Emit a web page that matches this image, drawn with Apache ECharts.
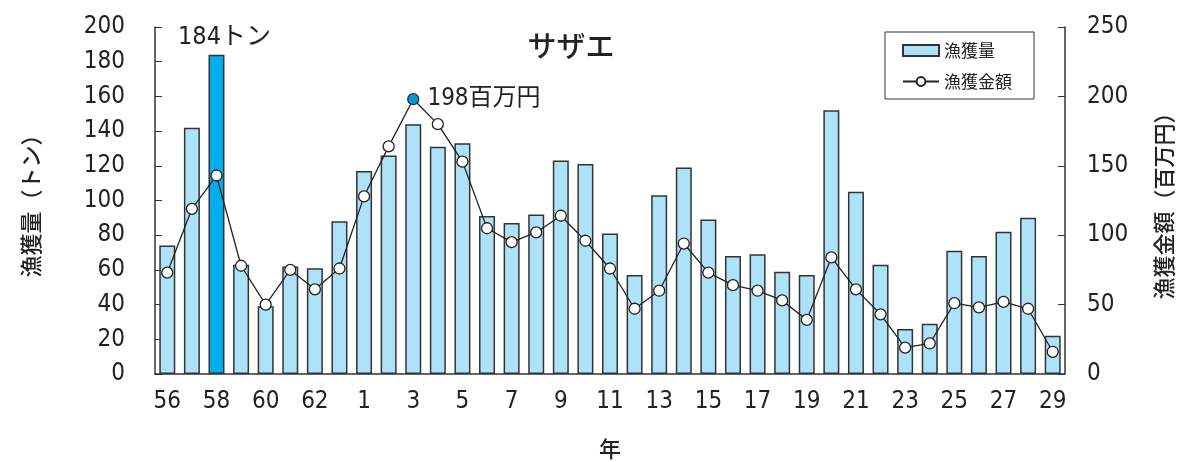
<!DOCTYPE html>
<html>
<head>
<meta charset="utf-8">
<script src="https://cdn.jsdelivr.net/npm/echarts@6/dist/echarts.min.js"></script>
<style>
  html, body { margin: 0; padding: 0; background: #fff; }
  #chart { width: 1189px; height: 462px; }
</style>
</head>
<body>
<div id="chart"></div>
<script>
// 年 (昭和56〜63, 平成1〜29)
const years = ['56','57','58','59','60','61','62','63',
  '1','2','3','4','5','6','7','8','9','10','11','12','13','14','15',
  '16','17','18','19','20','21','22','23','24','25','26','27','28','29'];
// 漁獲量（トン）
const catchTons = [74,142,184,63,39,62,61,88,117,126,144,131,133,91,87,92,123,121,81,57,
  103,119,89,68,69,59,57,152,105,63,26,29,71,68,82,90,22];
// 漁獲金額（百万円）
const catchValue = [73,119,143,78,50,75,61,76,128,164,198,180,153,105,95,102,114,96,76,47,
  60,94,73,64,60,53,39,84,61,43,19,22,51,48,52,47,16];
const maxTonIdx = 2;   // 58年 184トン
const maxValIdx = 10;  // 平成3年 198百万円

const font = '"Liberation Sans Narrow", "DejaVu Sans Condensed", "Noto Sans CJK JP", sans-serif';
const jpFont = '"Noto Sans CJK JP", sans-serif';
const axisColor = '#333';

const chart = echarts.init(document.getElementById('chart'));

const barData = catchTons.map((v, i) => {
  if (i === maxTonIdx) {
    return {
      value: v,
      itemStyle: { color: '#00aeef' },
      label: {
        show: true, position: 'top', distance: 5, offset: [8, 0],
        formatter: '{c}トン', color: '#222', fontSize: 25, fontFamily: font
      }
    };
  }
  return v;
});
const lineData = catchValue.map((v, i) => {
  if (i === maxValIdx) {
    return {
      value: v,
      itemStyle: { color: '#0099dd', borderColor: '#333' },
      label: {
        show: true, position: 'right', distance: 8,
        formatter: '{c}百万円', color: '#222', fontSize: 24, fontFamily: font
      }
    };
  }
  return v;
});

let option = {
  animation: false,
  textStyle: { fontFamily: font },
  title: {
    text: 'サザエ',
    left: 566, top: 26, textAlign: 'center',
    textStyle: { fontSize: 29, fontWeight: 500, color: '#222', fontFamily: jpFont }
  },
  legend: {
    left: 885, top: 32, orient: 'vertical',
    padding: [10, 22, 9, 17],
    itemGap: 14,
    borderColor: '#333', borderWidth: 1,
    itemWidth: 36, itemHeight: 11,
    textStyle: { fontSize: 17, color: '#222', fontFamily: jpFont },
    data: [
      { name: '漁獲量', icon: 'rect' },
      { name: '漁獲金額' }
    ]
  },
  grid: { left: 155, right: 124, top: 27, bottom: 88, outerBoundsMode: 'none' },
  xAxis: {
    type: 'category',
    data: years,
    name: '年',
    nameLocation: 'middle',
    nameGap: 64,
    nameTextStyle: { fontSize: 22, fontWeight: 500, color: '#222', fontFamily: jpFont },
    axisLine: { lineStyle: { color: axisColor, width: 1.5 } },
    axisTick: { inside: true, interval: 1, length: 6, lineStyle: { color: axisColor } },
    axisLabel: { interval: 1, margin: 16, fontSize: 24, color: '#222' }
  },
  yAxis: [{
    type: 'value', min: 0, max: 200, interval: 20,
    name: '漁獲量（トン）',
    nameLocation: 'middle', nameGap: 113, nameRotate: 90,
    nameTextStyle: { fontSize: 22, fontWeight: 500, color: '#222', fontFamily: jpFont },
    axisLine: { show: true, lineStyle: { color: axisColor, width: 1.5 } },
    axisTick: { show: true, inside: true, length: 7, lineStyle: { color: axisColor } },
    axisLabel: { margin: 30, fontSize: 24, color: '#222' },
    splitLine: { show: false }
  }, {
    type: 'value', min: 0, max: 250, interval: 50,
    name: '漁獲金額（百万円）',
    nameLocation: 'middle', nameGap: 88, nameRotate: 90,
    nameTextStyle: { fontSize: 22, fontWeight: 500, color: '#222', fontFamily: jpFont },
    axisLine: { show: true, lineStyle: { color: axisColor, width: 1.5 } },
    axisTick: { show: true, inside: true, length: 7, lineStyle: { color: axisColor } },
    axisLabel: { margin: 22, fontSize: 24, color: '#222' },
    splitLine: { show: false }
  }],
  series: [{
    name: '漁獲量',
    type: 'bar',
    yAxisIndex: 0,
    data: barData,
    barWidth: 16,
    itemStyle: { color: '#aee2f8', borderColor: '#333', borderWidth: 1.5 }
  }, {
    name: '漁獲金額',
    type: 'line',
    yAxisIndex: 1,
    data: lineData,
    symbol: 'circle',
    symbolSize: 11,
    lineStyle: { color: '#222', width: 1.3 },
    itemStyle: { color: '#fff', borderColor: '#222', borderWidth: 1.3 }
  }]
};
chart.setOption(option);
</script>
</body>
</html>
